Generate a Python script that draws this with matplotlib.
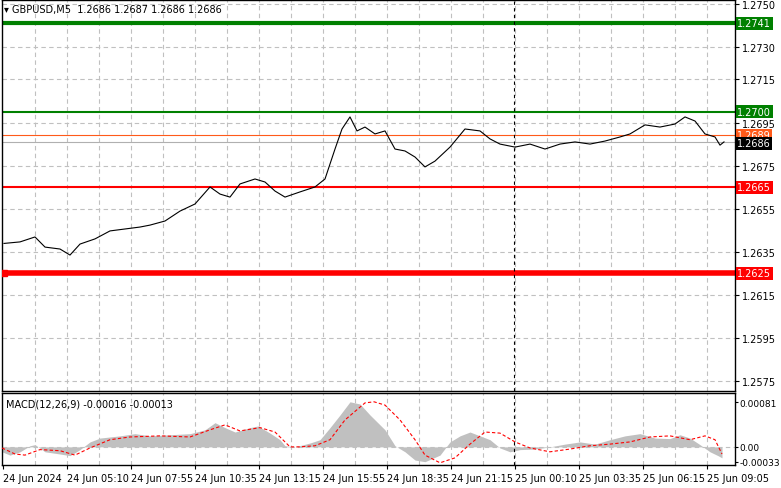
import numpy as np
import matplotlib
matplotlib.use('Agg')
import matplotlib.pyplot as plt
import matplotlib.transforms as mtrans

#-------------------------------------------------------------------------------
# DATA (bar index, M5 bars)
#-------------------------------------------------------------------------------
priceBars = [0.5, 8.5, 16, 21, 28.5, 33.5, 38.5, 46, 53.5, 61, 68.5, 73.5, 81, 88.5, 96, 103.5,
             108.5, 113.5, 118.5, 126, 131, 136, 141, 148.5, 156, 161, 166, 169.5, 173.5, 177,
             181, 186, 191, 196, 201, 206, 211, 216, 223.5, 231, 238.5, 243.5, 248.5, 256, 263.5,
             271, 278.5, 286, 293.5, 301, 308.5, 313.5, 321, 328.5, 336, 341, 346, 351, 356,
             358.5, 360.5]
priceVals = [1.26389, 1.26396, 1.26419, 1.26372, 1.26363, 1.26335, 1.26386, 1.26410, 1.26447,
             1.26456, 1.26465, 1.26474, 1.26493, 1.26539, 1.26572, 1.26651, 1.26618, 1.26604,
             1.26665, 1.26688, 1.26674, 1.26632, 1.26604, 1.26628, 1.26651, 1.26688, 1.26827,
             1.26920, 1.26976, 1.26911, 1.26929, 1.26897, 1.26911, 1.26827, 1.26818, 1.26790,
             1.26744, 1.26771, 1.26836, 1.26920, 1.26911, 1.26874, 1.26850, 1.26836, 1.26850,
             1.26827, 1.26850, 1.26860, 1.26850, 1.26864, 1.26883, 1.26897, 1.26939, 1.26929,
             1.26943, 1.26976, 1.26957, 1.26897, 1.26883, 1.26845, 1.26860]

histBars = [-0.5, 3.5, 8.5, 13.5, 16, 21, 28.5, 33.5, 38.5, 43.5, 48.5, 58.5, 66, 73.5, 83.5, 93.5,
            101, 106, 111, 116, 123.5, 127.5, 133.5, 138.5, 141, 146, 153.5, 158.5, 163.5, 168.5,
            173.5, 178.5, 183.5, 188.5, 191, 196, 201, 206, 211, 218.5, 223.5, 228.5, 233.5, 238.5,
            243.5, 248.5, 253.5, 258.5, 266, 273.5, 281, 288.5, 296, 303.5, 311, 318.5, 326,
            333.5, 338.5, 343.5, 348.5, 353.5, 357.5, 359.5]
histVals = [-9, -15, -9, 2, 4, -9, -13, -16, -5, 9, 16, 20, 24, 20, 22, 24, 31, 44, 35, 27, 35, 38,
            25, 13, 2, 0, 7, 13, 35, 58, 82, 78, 58, 40, 31, 2, -9, -24, -27, -15, 9, 20, 27, 20,
            13, -2, -9, -5, -4, 0, 5, 9, 5, 13, 20, 24, 16, 15, 22, 16, 4, -9, -16, -20]

sigBars = [-0.5, 6, 11, 18.5, 28.5, 36, 43.5, 53.5, 63.5, 78.5, 93.5, 103.5, 111, 118.5, 128.5,
           136, 143.5, 148.5, 156, 163.5, 171, 181, 185.5, 191, 198.5, 206, 211, 218.5, 226, 233.5,
           241, 248.5, 256, 263.5, 273.5, 283.5, 293.5, 303.5, 313.5, 323.5, 333.5, 343.5, 351,
           356, 359.5]
sigVals = [-2, -13, -15, -5, -7, -15, -2, 13, 18, 20, 18, 31, 40, 29, 35, 27, 0, 0, 2, 13, 49, 80,
           82, 76, 49, 13, -15, -29, -20, 5, 27, 25, 9, -2, -9, -4, 2, 5, 9, 18, 20, 13, 20, 13, -13]

xtickLabels = ['24 Jun 2024', '24 Jun 05:10', '24 Jun 07:55', '24 Jun 10:35', '24 Jun 13:15',
               '24 Jun 15:55', '24 Jun 18:35', '24 Jun 21:15', '25 Jun 00:10', '25 Jun 03:35',
               '25 Jun 06:15', '25 Jun 09:05']
priceTicks = [1.2750, 1.2730, 1.2715, 1.2695, 1.2675, 1.2655, 1.2635, 1.2615, 1.2595, 1.2575]
levels = [(1.2741, 'green', 3.0), (1.2700, 'green', 1.5), (1.2689, '#ff5a1a', 0.8),
          (1.2665, 'red', 1.5), (1.2625, 'red', 4.0)]
lastClose = 1.2686
separatorBar = 255.5

#-------------------------------------------------------------------------------
W, H = 781, 489
fig = plt.figure(figsize=(W/100, H/100), dpi=100)
plt.rcParams['font.family'] = 'DejaVu Sans'
axP = fig.add_axes([2/W, 1-392/H, 733/W, 391/H])
axM = fig.add_axes([2/W, 1-466/H, 733/W, 72/H])
xlim = (-0.5, 366)
gridkw = dict(color='#c0c0c0', linestyle=(0, (4, 3)), linewidth=0.8)
vgrid = np.arange(16, 366, 16)

# price panel
axP.set_xlim(*xlim)
axP.set_ylim(1.2750 - 387/21550, 1.2750 + 4/21550)
for v in vgrid:
    axP.axvline(v, **gridkw, zorder=0)
for t in priceTicks:
    axP.axhline(t, **gridkw, zorder=0)
for val, c, lw in levels:
    axP.axhline(val, color=c, linewidth=lw, zorder=2)
axP.axhline(lastClose, color='#b0b0b0', linewidth=0.8, zorder=2)
axP.plot([0.5], [1.2625], marker='s', color='red', markersize=5, zorder=3)
axP.plot(priceBars, priceVals, color='black', linewidth=0.8, zorder=4)
axP.axvline(separatorBar, color='black', linestyle=(0, (3, 3)), linewidth=0.8, zorder=3)
axP.yaxis.tick_right()
axP.set_yticks(priceTicks)
axP.set_yticklabels(['%.4f' % t for t in priceTicks], fontsize=7)
axP.tick_params(axis='y', length=3, pad=2)
axP.set_xticks([])
trans = mtrans.blended_transform_factory(axP.transAxes, axP.transData)
for val, c, lw in levels:
    axP.text(1.003, val, '%.4f' % val, transform=trans, fontsize=7, color='white', va='center',
             ha='left', bbox=dict(boxstyle='square,pad=0.15', fc=c, ec='none'), clip_on=False, zorder=5)
axP.text(1.003, lastClose - 0.00007, '%.4f' % lastClose, transform=trans, fontsize=7, color='white',
         va='center', ha='left', bbox=dict(boxstyle='square,pad=0.15', fc='black', ec='none'),
         clip_on=False, zorder=6)
axP.text(0.003, 0.99, '\u25be GBPUSD,M5  1.2686 1.2687 1.2686 1.2686', transform=axP.transAxes,
         fontsize=7, va='top', ha='left')

# MACD panel
axM.set_xlim(*xlim)
axM.set_ylim(-33, 98)
for v in vgrid:
    axM.axvline(v, **gridkw, zorder=0)
axM.axhline(0, **gridkw, zorder=0)
axM.fill_between(histBars, histVals, 0, color='#c0c0c0', linewidth=0, zorder=1)
axM.plot(sigBars, sigVals, color='red', linestyle=(0, (3, 2)), linewidth=0.8, zorder=3)
axM.axvline(separatorBar, color='black', linestyle=(0, (3, 3)), linewidth=0.8, zorder=3)
axM.yaxis.tick_right()
axM.set_yticks([81, 0, -27])
axM.set_yticklabels(['0.00081', '0.00', '-0.00033'], fontsize=6.5)
axM.tick_params(axis='y', length=2, pad=1.5)
axM.set_xticks(np.arange(0, 366, 32))
axM.set_xticklabels(xtickLabels, fontsize=7, ha='left')
axM.tick_params(axis='x', length=3, pad=3)
axM.text(0.005, 0.93, 'MACD(12,26,9) -0.00016 -0.00013', transform=axM.transAxes, fontsize=7,
         va='top', ha='left')

for ax in (axP, axM):
    for s in ax.spines.values():
        s.set_linewidth(1)

fig.savefig('out.png', dpi=100)
